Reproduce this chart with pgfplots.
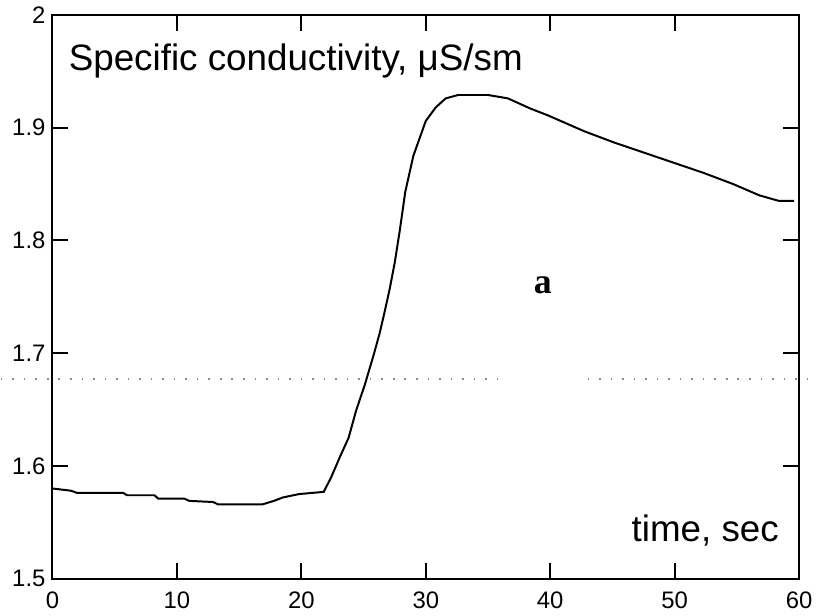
\documentclass[border=0pt]{standalone}
\usepackage{fontspec}
\setmainfont{Liberation Sans}
\newfontfamily\serifbold{Liberation Serif}
\usepackage{pgfplots}
\pgfplotsset{compat=1.18}
\begin{document}
\begin{tikzpicture}
\begin{axis}[
  scale only axis,
  width=375.5pt, height=283.5pt,
  xmin=0, xmax=60, ymin=1.5, ymax=2.0,
  xtick={0,10,20,30,40,50,60},
  ytick={1.5,1.6,1.7,1.8,1.9,2.0},
  yticklabels={1.5,1.6,1.7,1.8,1.9,2},
  tick align=inside,
  major tick length=8pt,
  tick style={black, line width=1pt},
  axis line style={black, line width=1pt},
  ticklabel style={font=\fontsize{12}{14}\selectfont},
  /pgf/number format/assume math mode=true,
  xticklabel style={yshift=-3pt},
  yticklabel style={xshift=0pt},
  clip=false,
]
\addplot[black, line width=1pt] coordinates {
(0,1.580)(1.5,1.578)(2,1.576)(5.7,1.576)(6,1.574)(8.2,1.574)(8.5,1.571)(10.6,1.571)(11,1.569)(12.9,1.568)(13.3,1.566)(16.9,1.566)(17.8,1.569)(18.5,1.572)(19.8,1.575)(21.8,1.577)(22.4,1.590)(23.1,1.608)(23.8,1.625)(24.4,1.649)(25.1,1.672)(25.8,1.698)(26.3,1.718)(26.7,1.737)(27.1,1.757)(27.5,1.780)(27.9,1.808)(28.35,1.843)(29.0,1.875)(30.0,1.906)(30.8,1.918)(31.6,1.926)(32.6,1.929)(35.0,1.929)(36.6,1.926)(38.4,1.917)(39.8,1.911)(42.7,1.897)(45.1,1.887)(47.5,1.878)(49.9,1.869)(52.3,1.860)(54.7,1.850)(56.8,1.840)(58.4,1.835)(59.6,1.835)
};
\addplot[black!45, line width=0.8pt, dash pattern=on 0.8pt off 5pt] coordinates {(-4.15,1.677)(35.9,1.677)};
\addplot[black!45, line width=0.8pt, dash pattern=on 0.8pt off 5pt] coordinates {(43.0,1.677)(61.3,1.677)};
\node[anchor=base west, font=\fontsize{18.5}{20}\selectfont, inner sep=0pt] at (axis cs:1.28,1.9506) {Specific conductivity, μS/sm};
\node[anchor=base east, font=\fontsize{18.5}{20}\selectfont, inner sep=0pt] at (axis cs:58.4,1.5326) {time, sec};
\node[font=\serifbold\bfseries\fontsize{18}{20}\selectfont, inner sep=0pt] at (axis cs:39.4,1.760) {a};
\end{axis}
\end{tikzpicture}
\end{document}
